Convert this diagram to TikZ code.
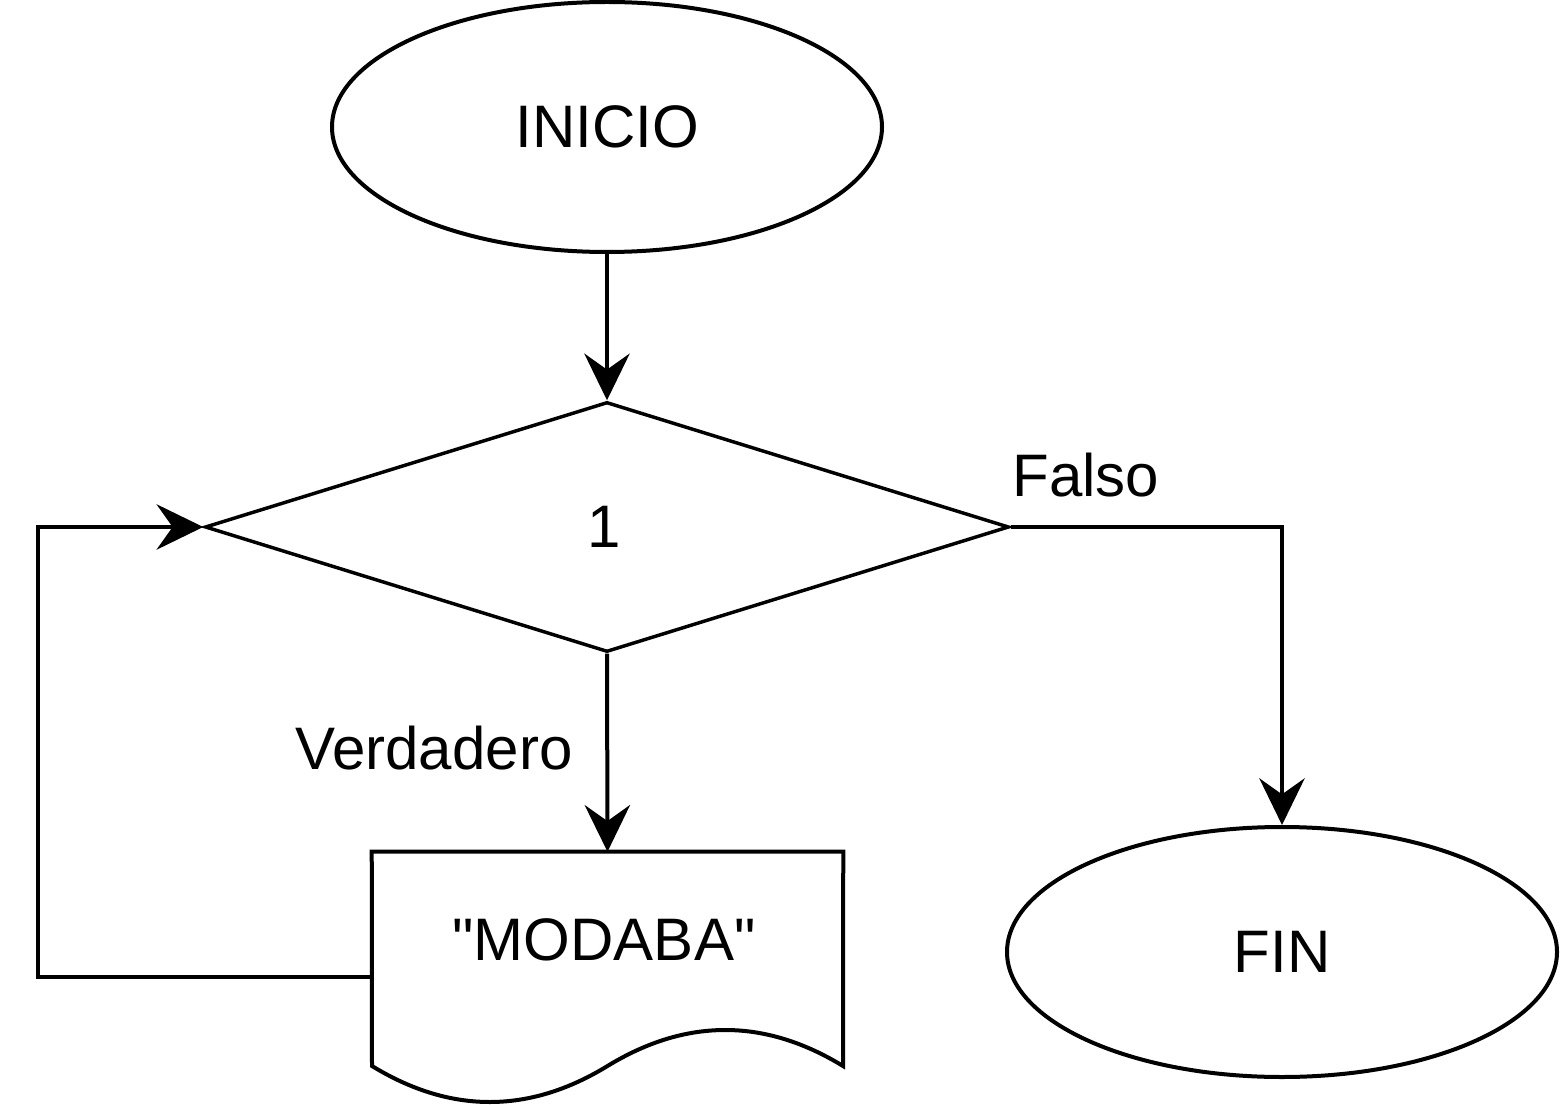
\documentclass[tikz,border=0pt]{standalone}
\usepackage{fontspec}
\setmainfont{Liberation Sans}[Ligatures=TeXOff]
\usetikzlibrary{shapes.geometric,arrows.meta}
\begin{document}
\begin{tikzpicture}[x=0.75pt,y=-0.75pt,
  lw/.style={line width=3pt},
  term/.style={ellipse,draw,lw,minimum width=412.5pt,minimum height=187.5pt,inner sep=0pt,font=\fontsize{45}{52}\selectfont},
  dec/.style={diamond,draw,line width=2.6pt,minimum width=603pt,minimum height=187.5pt,aspect=3.216,inner sep=0pt,font=\fontsize{45}{52}\selectfont},
  txt/.style={inner sep=0pt,font=\fontsize{45}{52}\selectfont},
  conn/.style={lw,-{Stealth[length=35pt,width=34pt,inset=12pt]}},
  plain/.style={lw}]
\useasboundingbox (0,0) rectangle (1560,1105);
\node[term] (ini) at (607,127) {INICIO};
\node[dec] (cond) at (607,527) {};
\node[txt] (one) at (604,527) {1};
\node[term] (fin) at (1282,952) {FIN};
\node[inner sep=0pt,minimum width=353.25pt,minimum height=160.5pt] (doc) at (607.5,959) {};
\node[txt] (doctext) at (604,940) {"MODABA"};
\draw[lw,line join=miter] (843,1066) -- (doc.north east) -- (doc.north west) -- (372,1066)
  .. controls (450.5,1114) and (529,1114) .. (607.5,1066)
  .. controls (686,1018) and (764.5,1018) .. (843,1066) -- cycle;
\coordinate (docL) at (372,977);
\node[txt] (lv) at (434,748) {Verdadero};
\node[txt] (lf) at (1086,475) {Falso};
\draw[conn] (ini.south) -- (cond.north);
\draw[conn] (cond.south) -- (doc.north);
\draw[conn] (cond.east) -| (fin.north);
\draw[conn] (docL) -- (38,977) -- (38,527) -- (cond.west);
\end{tikzpicture}
\end{document}
